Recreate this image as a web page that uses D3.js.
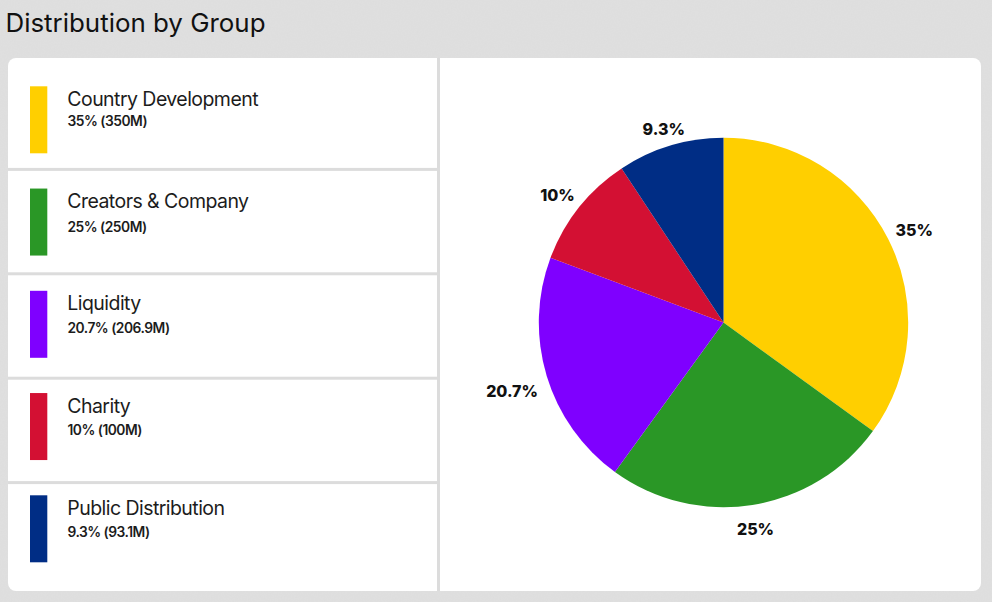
<!DOCTYPE html>
<html><head><meta charset="utf-8">
<script src="https://cdn.jsdelivr.net/npm/d3@7"></script>
<style>html,body{margin:0;padding:0;background:#dedede;overflow:hidden}svg{display:block}text{font-family:Inter,"Noto Sans",sans-serif}</style>
</head><body><svg id="c" width="992" height="602"></svg>
<script>
const title = "Distribution by Group";
const categories = ["Country Development","Creators & Company","Liquidity","Charity","Public Distribution"];
const percents = [35,25,20.7,10,9.3];
const amounts = ["350M","250M","206.9M","100M","93.1M"];
const colors = ["#ffcf00","#2a9726","#7f00ff","#d31033","#002d85"];

const svg = d3.select("#c");
const ink = "#1c1c1c";
const defs = svg.append("defs");
const noise = defs.append("filter").attr("id","paper").attr("x",0).attr("y",0).attr("width","100%").attr("height","100%");
noise.append("feTurbulence").attr("type","fractalNoise").attr("baseFrequency",0.7).attr("numOctaves",2).attr("seed",4);
noise.append("feColorMatrix").attr("values","0 0 0 0 0.5  0 0 0 0 0.5  0 0 0 0 0.5  0 0 0 0.09 0");
svg.append("rect").attr("width",992).attr("height",602).attr("fill","#e0e0e0");
svg.append("rect").attr("width",992).attr("height",602).attr("filter","url(#paper)");

svg.append("text").attr("x",5.5).attr("y",32).attr("font-size",25.9).attr("font-weight",380).attr("fill","#111").text(title);

// panel
svg.append("rect").attr("x",8).attr("y",58).attr("width",973).attr("height",533).attr("rx",8).attr("fill","#fff");
const divider = "#dcdcdc";
svg.append("rect").attr("x",437).attr("y",58).attr("width",3).attr("height",533).attr("fill",divider);

// legend rows
const rowY = d3.scaleBand().domain(categories).range([65,587]).paddingInner(0);
const swatchY = d3.scaleLinear().domain([0,categories.length-1]).range([86.3,495.3]);
categories.slice(1).forEach(c=>{
  svg.append("rect").attr("x",8).attr("y",rowY(c)-1.5).attr("width",429).attr("height",3).attr("fill",divider);
});
const rows = svg.append("g").selectAll("g").data(categories).join("g")
  .attr("transform",(d,i)=>`translate(0,${swatchY(i)})`);
rows.append("rect").attr("x",30).attr("y",0).attr("width",17.3).attr("height",67).attr("fill",(d,i)=>colors[i]);
rows.append("text").attr("x",67.3).attr("y",19.5).attr("font-size",19.5).attr("font-weight",380).attr("letter-spacing",-0.55).attr("fill",ink).text(d=>d);
rows.append("text").attr("x",67.5).attr("y",(d,i)=>i===0?40:(i===1?43:42)).attr("font-size",13.8).attr("font-weight",600).attr("letter-spacing",-0.5).attr("fill",ink)
  .text((d,i)=>`${percents[i]}% (${amounts[i]})`);

// pie
const cx = 723.5, cy = 322.5, R = 184.7;
const pie = d3.pie().sort(null).value(d=>d)(percents);
const arc = d3.arc().innerRadius(0).outerRadius(R);
const g = svg.append("g").attr("transform",`translate(${cx},${cy})`);
g.selectAll("path").data(pie).join("path").attr("d",arc).attr("fill",(d,i)=>colors[i]);
const labels = g.selectAll("text").data(pie).join("text")
  .attr("font-size",16).attr("font-weight",800).attr("fill","#111").attr("text-anchor","middle").attr("dominant-baseline","central")
  .text(d=>d.value+"%");
labels.each(function(d){
  const a=(d.startAngle+d.endAngle)/2, w=this.getComputedTextLength();
  const r=R+9+Math.abs(Math.sin(a))*w/2+8*Math.abs(Math.cos(a));
  d3.select(this).attr("x",Math.sin(a)*r).attr("y",-Math.cos(a)*r+5);
});
</script></body></html>
